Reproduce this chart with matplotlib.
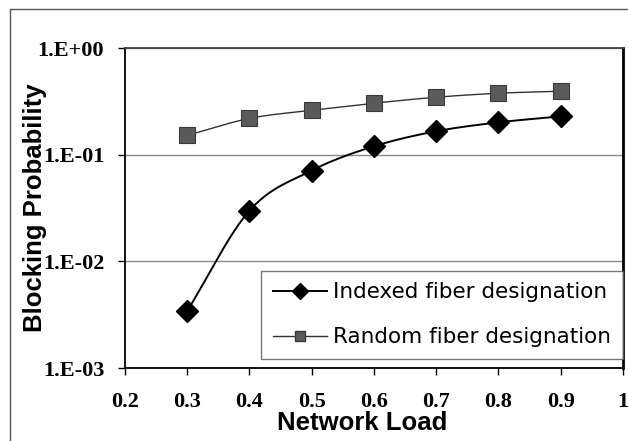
import matplotlib
matplotlib.use('Agg')
import matplotlib.pyplot as plt
import numpy as np

# Data
load = [0.3, 0.4, 0.5, 0.6, 0.7, 0.8, 0.9]
indexed = [0.00343, 0.0299, 0.0711, 0.120, 0.166, 0.201, 0.229]
random_fd = [0.152, 0.219, 0.261, 0.304, 0.346, 0.377, 0.394]
yticks = [1e-3, 1e-2, 1e-1, 1e0]
ytick_labels = ['1.E-03', '1.E-02', '1.E-01', '1.E+00']
xticks = [0.2, 0.3, 0.4, 0.5, 0.6, 0.7, 0.8, 0.9, 1.0]
xtick_labels = ['0.2', '0.3', '0.4', '0.5', '0.6', '0.7', '0.8', '0.9', '1']


def smooth(x, y, n=30):
    # Catmull-Rom curve in (x, log y) space, like a spreadsheet smoothed line
    x = np.asarray(x, float)
    ly = np.log10(np.asarray(y, float))
    px = np.concatenate([[2 * x[0] - x[1]], x, [2 * x[-1] - x[-2]]])
    py = np.concatenate([[2 * ly[0] - ly[1]], ly, [2 * ly[-1] - ly[-2]]])
    xs, ys = [], []
    t = np.linspace(0, 1, n)
    for i in range(1, len(px) - 2):
        for p, out in ((px, xs), (py, ys)):
            p0, p1, p2, p3 = p[i - 1], p[i], p[i + 1], p[i + 2]
            out.extend(0.5 * (2 * p1 + (-p0 + p2) * t
                              + (2 * p0 - 5 * p1 + 4 * p2 - p3) * t ** 2
                              + (-p0 + 3 * p1 - 3 * p2 + p3) * t ** 3))
    return np.array(xs), 10 ** np.array(ys)


fig = plt.figure(figsize=(6.28, 4.41), dpi=100)
ax = fig.add_axes([0.199, 0.1655, 0.793, 0.7255])

sx, sy = smooth(load, indexed)
ax.plot(sx, sy, color='black', lw=1.4, zorder=3)
sx, sy = smooth(load, random_fd)
ax.plot(sx, sy, color='#333333', lw=1.0, zorder=3)

ax.plot(load, indexed, linestyle='none', marker='D', ms=11.5, color='black',
        zorder=4)
ax.plot(load, random_fd, linestyle='none', marker='s', ms=11,
        color='#5a5a5a', mec='#3a3a3a', mew=0.8, zorder=4)

ax.set_yscale('log')
ax.set_ylim(1e-3, 1e0)
ax.set_xlim(0.2, 1.0)
ax.set_yticks(yticks)
ax.set_yticklabels(ytick_labels)
ax.set_xticks(xticks)
ax.set_xticklabels(xtick_labels)
ax.yaxis.set_minor_locator(matplotlib.ticker.NullLocator())

ax.grid(axis='y', which='major', color='#8a8a8a', lw=1.0)
for s in ax.spines.values():
    s.set_linewidth(1.3)
ax.spines['right'].set_linewidth(2.0)
ax.spines['top'].set_color('#444444')
ax.tick_params(direction='out', length=5, width=1.0)
ax.tick_params(axis='x', pad=12)
ax.tick_params(axis='y', pad=10)
for lab in ax.get_xticklabels() + ax.get_yticklabels():
    lab.set_fontfamily('Liberation Serif')
    lab.set_fontweight('bold')
    lab.set_fontsize(16)

ax.set_xlabel('Network Load', fontfamily='Liberation Sans',
              fontweight='bold', fontsize=18.5, labelpad=-1)
ax.xaxis.set_label_coords(0.476, -0.135)
ax.set_ylabel('Blocking Probability', fontfamily='Liberation Sans',
              fontweight='bold', fontsize=18.5, labelpad=-7)

h1 = matplotlib.lines.Line2D([], [], color='black', lw=1.4, marker='D',
                             ms=8)
h2 = matplotlib.lines.Line2D([], [], color='#333333', lw=1.0, marker='s',
                             ms=7, mfc='#5a5a5a', mec='#3a3a3a')
leg = ax.legend([h1, h2], ['Indexed fiber designation',
                           'Random fiber designation'],
                loc='lower right', bbox_to_anchor=(1.0, 0.028),
                prop={'family': 'DejaVu Sans', 'size': 15.5},
                frameon=True, fancybox=False, edgecolor='#555555',
                handlelength=2.5, handletextpad=0.3, borderpad=0.55,
                labelspacing=1.15, borderaxespad=0.0)
leg.get_frame().set_linewidth(1.0)

# outer chart border
fig.add_artist(matplotlib.lines.Line2D([0.016, 0.016, 1.0],
                                       [0.0, 0.98, 0.98],
                                       color='#555555', lw=1.0))

fig.savefig('out.png', dpi=100)
